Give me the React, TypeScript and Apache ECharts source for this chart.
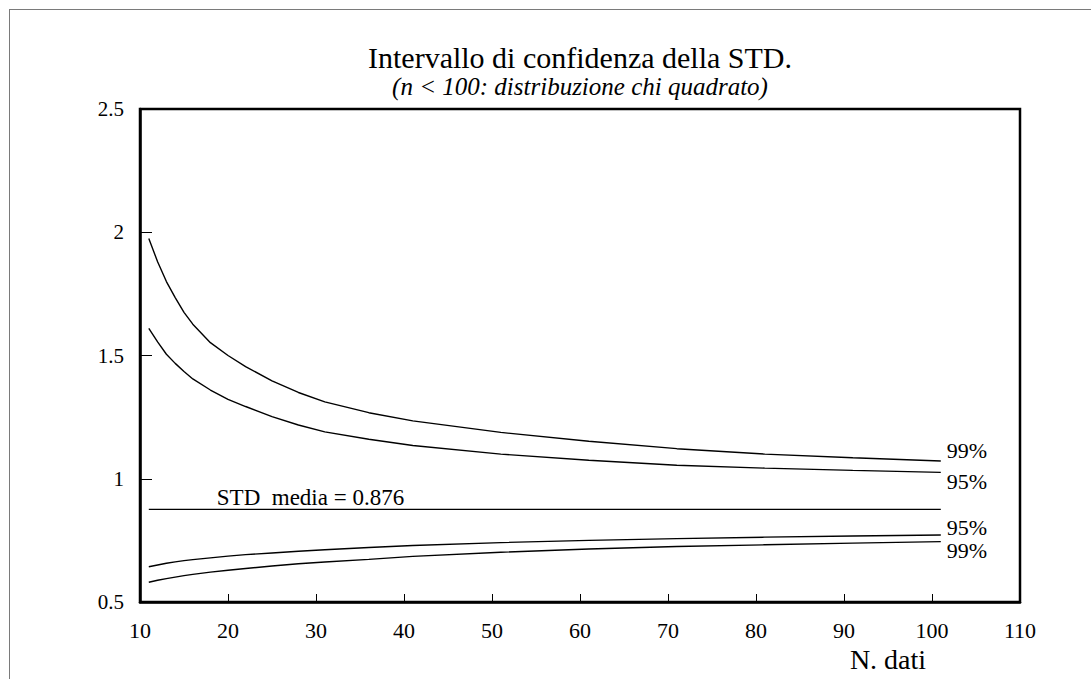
import React, { useEffect, useRef } from "react";
import * as echarts from "echarts";

const nValues = [11, 12, 13, 14, 15, 16, 18, 20, 22, 25, 28, 31, 36, 41, 51, 61, 71, 81, 91, 101];
const upper99 = [1.975, 1.88, 1.8, 1.735, 1.675, 1.627, 1.552, 1.5, 1.455, 1.397, 1.35, 1.312, 1.268, 1.235, 1.188, 1.152, 1.122, 1.1, 1.085, 1.072];
const upper95 = [1.61, 1.555, 1.505, 1.468, 1.435, 1.405, 1.36, 1.322, 1.293, 1.252, 1.218, 1.19, 1.16, 1.135, 1.1, 1.075, 1.055, 1.043, 1.034, 1.026];
const lower95 = [0.643, 0.65, 0.657, 0.663, 0.668, 0.672, 0.679, 0.686, 0.692, 0.699, 0.706, 0.712, 0.721, 0.729, 0.741, 0.75, 0.757, 0.763, 0.768, 0.772];
const lower99 = [0.58, 0.588, 0.595, 0.601, 0.607, 0.612, 0.621, 0.629, 0.636, 0.646, 0.655, 0.662, 0.673, 0.685, 0.702, 0.715, 0.725, 0.732, 0.739, 0.745];
const stdMean = 0.876;
const stdRange = [11, 101];

const titleText = "Intervallo di confidenza della STD.";
const subtitleText = "(n < 100: distribuzione chi quadrato)";
const xName = "N. dati";
const stdLabel = "STD  media = 0.876";

const FONT = "'Liberation Serif', 'Times New Roman', serif";

function pairs(ys: number[]) {
  return nValues.map((n, i) => [n, ys[i]]);
}

export default function App() {
  const ref = useRef<HTMLDivElement>(null);
  useEffect(() => {
    if (!ref.current) return;
    const chart = echarts.init(ref.current, null, { renderer: "svg" });
    const curve = (name: string, ys: number[], label: string, dy: number) => ({
      name,
      type: "line",
      data: pairs(ys),
      showSymbol: false,
      symbol: "none",
      lineStyle: { color: "#000", width: 1.4 },
      endLabel: {
        show: true,
        formatter: label,
        color: "#000",
        fontFamily: FONT,
        fontSize: 22,
        distance: 6,
        offset: [0, dy],
      },
      silent: true,
    });
    chart.setOption({
      animation: false,
      backgroundColor: "#fff",
      textStyle: { fontFamily: FONT, color: "#000" },
      grid: {
        left: 140,
        top: 109,
        right: 71,
        bottom: 77,
        show: true,
        borderColor: "#000",
        borderWidth: 2.5,
        backgroundColor: "transparent",
      },
      graphic: [
        {
          type: "text",
          x: 580,
          y: 57,
          style: {
            text: titleText,
            fontFamily: FONT,
            fontSize: 30,
            fill: "#000",
            align: "center",
            verticalAlign: "middle",
          },
        },
        {
          type: "text",
          x: 580,
          y: 86,
          style: {
            text: subtitleText,
            fontFamily: FONT,
            fontStyle: "italic",
            fontSize: 25,
            fill: "#000",
            align: "center",
            verticalAlign: "middle",
          },
        },
        {
          type: "text",
          x: 888,
          y: 659,
          style: {
            text: xName,
            fontFamily: FONT,
            fontSize: 28,
            fill: "#000",
            align: "center",
            verticalAlign: "middle",
          },
        },
      ],
      xAxis: {
        type: "value",
        min: 10,
        max: 110,
        interval: 10,
        axisLine: { show: true, lineStyle: { color: "#000", width: 2.5 } },
        axisTick: { show: true, inside: true, length: 8, lineStyle: { color: "#000", width: 1 } },
        splitLine: { show: false },
        axisLabel: { color: "#000", fontFamily: FONT, fontSize: 22, margin: 17 },
      },
      yAxis: {
        type: "value",
        min: 0.5,
        max: 2.5,
        interval: 0.5,
        axisLine: { show: true, lineStyle: { color: "#000", width: 2.5 } },
        axisTick: { show: true, inside: true, length: 12, lineStyle: { color: "#000", width: 1 } },
        splitLine: { show: false },
        axisLabel: { color: "#000", fontFamily: FONT, fontSize: 21, margin: 16 },
      },
      series: [
        curve("upper99", upper99, "99%", -11),
        curve("upper95", upper95, "95%", 9),
        curve("lower95", lower95, "95%", -7),
        curve("lower99", lower99, "99%", 9),
        {
          name: "std",
          type: "line",
          symbol: "circle",
          symbolSize: 0,
          showSymbol: true,
          lineStyle: { color: "#000", width: 1.2 },
          itemStyle: { color: "#000" },
          silent: true,
          data: [
            {
              value: [stdRange[0], stdMean],
              label: {
                show: true,
                position: "right",
                distance: 5,
                offset: [63, -12],
                formatter: stdLabel,
                color: "#000",
                fontFamily: FONT,
                fontSize: 23,
              },
            },
            { value: [stdRange[1], stdMean], label: { show: false } },
          ],
        },
      ],
    });
    return () => chart.dispose();
  }, []);
  return (
    <div
      style={{
        position: "fixed",
        left: 0,
        top: 0,
        width: 1091,
        height: 679,
        overflow: "hidden",
        background: "#fff",
      }}
    >
      <div ref={ref} style={{ position: "absolute", left: 0, top: 0, width: 1091, height: 679 }} />
      <div
        style={{
          position: "absolute",
          left: 9,
          top: 9,
          width: 1200,
          height: 800,
          border: "1px solid #7a7a7a",
          pointerEvents: "none",
        }}
      />
    </div>
  );
}
